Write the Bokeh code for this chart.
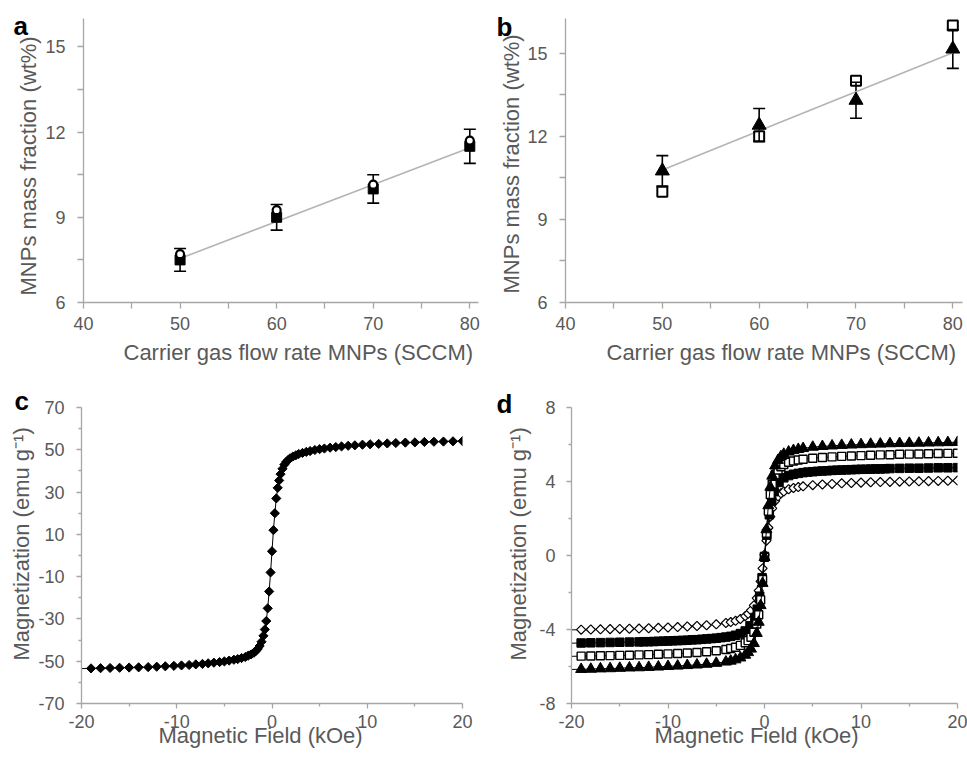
import numpy as np
from bokeh.plotting import figure
from bokeh.layouts import column, row
from bokeh.models import (Range1d, FixedTicker, Whisker, TeeHead, ColumnDataSource, Title)
from bokeh.embed import file_html
from bokeh.resources import INLINE

# ---------------- data ----------------
# panel a
flow_rate = [50, 60, 70, 80]
a_squares = [7.5, 9.0, 10.0, 11.5]
a_squares_err = [0.4, 0.45, 0.5, 0.6]
a_circles = [7.7, 9.25, 10.15, 11.7]

# panel b
b_triangles = [10.75, 12.4, 13.3, 15.15]
b_triangles_err = [0.55, 0.6, 0.65, 0.7]
b_squares = [10.0, 12.0, 14.0, 16.0]

# panel c
c_field = [-20, -19, -18, -17, -16, -15, -14, -13, -12.1, -11.2, -10.3, -9.5, -8.7, -8.0,
           -7.3, -6.7, -6.1, -5.5, -5.0, -4.5, -4.0, -3.6, -3.2, -2.8, -2.5, -2.2, -1.9,
           -1.7, -1.5, -1.3, -1.1, -0.9, -0.75, -0.6, -0.45, -0.3, -0.15, 0,
           0.15, 0.3, 0.45, 0.6, 0.75, 0.9, 1.1, 1.3, 1.5, 1.7, 1.9, 2.2, 2.5, 2.8, 3.2,
           3.6, 4.0, 4.5, 5.0, 5.5, 6.1, 6.7, 7.3, 8.0, 8.7, 9.5, 10.3, 11.2, 12.1, 13,
           14, 15, 16, 17, 18, 19, 20]
c_magnetization = [-53.5, -53.4, -53.3, -53.2, -53.1, -53.0, -52.9, -52.8, -52.6, -52.4,
                   -52.2, -52.0, -51.8, -51.5, -51.3, -51.0, -50.7, -50.4, -50.1, -49.7,
                   -49.3, -49.0, -48.5, -48.0, -47.4, -46.8, -46.0, -45.2, -44.2, -42.8,
                   -40.8, -38.0, -35.0, -31.0, -25.0, -17.0, -8.0, 2.0,
                   12.0, 20.0, 27.0, 32.0, 35.5, 38.5, 41.0, 43.0, 44.3, 45.2, 46.0, 46.8,
                   47.4, 48.0, 48.5, 49.0, 49.4, 49.9, 50.3, 50.6, 51.0, 51.3, 51.6, 51.9,
                   52.1, 52.4, 52.6, 52.8, 53.0, 53.2, 53.4, 53.5, 53.7, 53.8, 53.9, 54.0,
                   54.1]

# panel d
d_field = [-20, -19, -18, -17, -16, -15, -14, -13, -12, -11, -10, -9, -8, -7, -6, -5,
           -4, -3.5, -3, -2.5, -2, -1.7, -1.4, -1.1, -0.8, -0.6, -0.4, -0.2, 0,
           0.2, 0.4, 0.6, 0.8, 1.1, 1.4, 1.7, 2, 2.5, 3, 3.5, 4,
           5, 6, 7, 8, 9, 10, 11, 12, 13, 14, 15, 16, 17, 18, 19, 20]
d_triangles = [-6.16, -6.15, -6.14, -6.12, -6.11, -6.09, -6.07, -6.06, -6.04, -6.02, -5.99,
               -5.97, -5.94, -5.91, -5.87, -5.82, -5.75, -5.7, -5.63, -5.53, -5.38, -5.24,
               -5.05, -4.75, -4.2, -3.6, -2.7, -1.5, -0.1,
               1.4, 2.7, 3.7, 4.3, 4.85, 5.15, 5.35, 5.48, 5.6, 5.68, 5.74, 5.79,
               5.86, 5.9, 5.93, 5.96, 5.98, 6.0, 6.02, 6.03, 6.05, 6.06, 6.07, 6.08, 6.09,
               6.1, 6.11, 6.12]
d_open_squares = [-5.45, -5.44, -5.43, -5.42, -5.41, -5.4, -5.39, -5.37, -5.36, -5.34, -5.32,
                  -5.3, -5.27, -5.24, -5.2, -5.15, -5.08, -5.03, -4.96, -4.86, -4.72, -4.6,
                  -4.42, -4.15, -3.7, -3.2, -2.4, -1.3, -0.1,
                  1.2, 2.4, 3.3, 3.85, 4.35, 4.62, 4.8, 4.92, 5.04, 5.11, 5.16, 5.2,
                  5.26, 5.3, 5.33, 5.36, 5.38, 5.4, 5.42, 5.44, 5.45, 5.47, 5.48, 5.49, 5.5,
                  5.51, 5.52, 5.53]
d_diamonds = [-4.02, -4.01, -4.0, -3.99, -3.98, -3.97, -3.96, -3.95, -3.93, -3.91, -3.89,
              -3.87, -3.84, -3.81, -3.77, -3.72, -3.65, -3.6, -3.53, -3.43, -3.28, -3.15,
              -2.97, -2.7, -2.3, -1.9, -1.4, -0.7, 0.05,
              0.8, 1.5, 2.1, 2.55, 2.95, 3.2, 3.36, 3.46, 3.58, 3.65, 3.7, 3.74,
              3.8, 3.84, 3.87, 3.9, 3.92, 3.94, 3.96, 3.97, 3.98, 3.99, 4.0, 4.01, 4.02,
              4.03, 4.04, 4.05]
d_field_fine = [-20, -19, -18, -17, -16, -15, -14, -13,
                -12.5, -12, -11.5, -11, -10.5, -10, -9.5, -9, -8.5, -8, -7.5, -7, -6.5, -6,
                -5.5, -5, -4.5, -4, -3.5, -3, -2.5, -2, -1.5,
                -1, -0.75, -0.5, -0.25, 0, 0.25, 0.5, 0.75, 1,
                1.5, 2, 2.5, 3, 3.5, 4, 4.5, 5, 5.5, 6, 6.5, 7, 7.5, 8, 8.5, 9, 9.5, 10,
                10.5, 11, 11.5, 12, 12.5,
                13, 14, 15, 16, 17, 18, 19, 20]
d_filled_squares = [-4.74, -4.73, -4.72, -4.71, -4.7, -4.69, -4.68, -4.67,
                    -4.66, -4.66, -4.65, -4.64, -4.63, -4.62, -4.61, -4.6, -4.59, -4.58,
                    -4.56, -4.55, -4.53, -4.51, -4.49, -4.47, -4.44, -4.41, -4.37, -4.31,
                    -4.22, -4.08, -3.8,
                    -3.35, -2.9, -2.2, -1.2, -0.05, 1.1, 2.2, 2.95, 3.45,
                    3.95, 4.2, 4.32, 4.39, 4.44, 4.48, 4.51, 4.53, 4.55, 4.57, 4.58, 4.6,
                    4.61, 4.62, 4.63, 4.64, 4.65, 4.66, 4.66, 4.67, 4.68, 4.68, 4.69,
                    4.7, 4.71, 4.72, 4.72, 4.73, 4.74, 4.74, 4.75]

# ticks
ab_x_ticks = [40, 50, 60, 70, 80]
ab_x_minor = [45, 55, 65, 75]
ab_y_ticks = [6, 9, 12, 15]
ab_y_minor = [7.5, 10.5, 13.5]
cd_x_ticks = [-20, -10, 0, 10, 20]
cd_x_minor = [-15, -5, 5, 15]
c_y_ticks = [-70, -50, -30, -10, 10, 30, 50, 70]
c_y_minor = [-60, -40, -20, 0, 20, 40, 60]
d_y_ticks = [-8, -4, 0, 4, 8]
d_y_minor = [-6, -2, 2, 6]

# ---------------- styling ----------------
FONT = "Liberation Sans"
AXC = "#A6A6A6"
TXT = "#595959"


def make_fig(w, h, bl, br, bt, bb, xr, yr):
    p = figure(width=w, height=h, x_range=Range1d(*xr), y_range=Range1d(*yr),
               output_backend="svg", toolbar_location=None,
               min_border_left=bl, min_border_right=br, min_border_top=bt, min_border_bottom=bb)
    p.outline_line_color = None
    p.xgrid.visible = False
    p.ygrid.visible = False
    return p


def style_axes(p, xt, xm, yt, ym, tick_out, minor_out, xstand, ystand):
    p.xaxis.ticker = FixedTicker(ticks=xt, minor_ticks=xm)
    p.yaxis.ticker = FixedTicker(ticks=yt, minor_ticks=ym)
    p.xaxis.major_label_overrides = {t: str(t) for t in xt}
    p.yaxis.major_label_overrides = {t: str(t) for t in yt}
    for ax in (p.xaxis[0], p.yaxis[0]):
        ax.axis_line_color = AXC
        ax.axis_line_width = 1.3
        ax.major_tick_line_color = AXC
        ax.minor_tick_line_color = AXC
        ax.major_tick_line_width = 1.3
        ax.minor_tick_line_width = 1.3
        ax.major_tick_in = 0
        ax.minor_tick_in = 0
        ax.major_tick_out = tick_out
        ax.minor_tick_out = minor_out
        ax.major_label_text_font = FONT
        ax.major_label_text_font_size = "18px"
        ax.major_label_text_color = TXT
    p.xaxis.major_label_standoff = xstand
    p.yaxis.major_label_standoff = ystand


def titles(p, letter, l_off, l_stand, xtext, x_off, x_stand, ytext, y_off, y_stand):
    # panel letter (outside the frame, top-left)
    p.title.text = letter
    p.title.align = "left"
    p.title.vertical_align = "bottom"
    p.title.offset = l_off
    p.title.standoff = l_stand
    p.title.text_font = FONT
    p.title.text_font_size = "26px"
    p.title.text_font_style = "bold"
    p.title.text_color = "black"
    # x axis title
    p.add_layout(Title(text=xtext, align="left", offset=x_off, standoff=x_stand,
                       vertical_align="top", text_font=FONT, text_font_size="22px",
                       text_font_style="normal", text_color=TXT), "below")
    # y axis title
    p.add_layout(Title(text=ytext, align="left", offset=y_off, standoff=y_stand,
                       vertical_align="bottom", text_font=FONT, text_font_size="22px",
                       text_font_style="normal", text_color=TXT), "left")


def whiskers(p, xs, ys, errs):
    src = ColumnDataSource(dict(x=xs, upper=[y + e for y, e in zip(ys, errs)],
                                lower=[y - e for y, e in zip(ys, errs)]))
    p.add_layout(Whisker(source=src, base="x", upper="upper", lower="lower",
                         dimension="height", line_color="black", line_width=1.6,
                         upper_head=TeeHead(size=12, line_color="black", line_width=1.6),
                         lower_head=TeeHead(size=12, line_color="black", line_width=1.6)))


def trend(p, xs, ys):
    k, b = np.polyfit(xs, ys, 1)
    xe = [min(xs), max(xs)]
    p.line(xe, [k * v + b for v in xe], line_color="#B4B4B4", line_width=1.6)


MASS_LABEL = "MNPs mass fraction (wt%)"
FLOW_LABEL = "Carrier gas flow rate MNPs (SCCM)"
MAG_LABEL = "Magnetization (emu g\u207b\u00b9)"
FIELD_LABEL = "Magnetic Field (kOe)"

# ---------------- panel a ----------------
pa = make_fig(488, 380, 83, 10, 18, 78, (40, 80.9), (6, 16))
style_axes(pa, ab_x_ticks, ab_x_minor, ab_y_ticks, ab_y_minor, 6, 6, 8, 12)
trend(pa, flow_rate, a_squares)
whiskers(pa, flow_rate, a_squares, a_squares_err)
pa.scatter(flow_rate, a_squares, marker="square", size=10, fill_color="black", line_color="black")
pa.scatter(flow_rate, a_circles, marker="circle", size=8, fill_color="white",
           line_color="black", line_width=2.2)
titles(pa, "a", -70, -45, FLOW_LABEL, 40, 14, MASS_LABEL, 7, 3.4)

# ---------------- panel b ----------------
pb = make_fig(479, 380, 77, 5, 11, 78, (40, 81), (6, 16.25))
style_axes(pb, ab_x_ticks, ab_x_minor, ab_y_ticks, ab_y_minor, 6, 6, 8, 12)
trend(pb, flow_rate, b_triangles)
whiskers(pb, flow_rate, b_triangles, b_triangles_err)
pb.scatter(flow_rate, b_squares, marker="square", size=10, fill_color=None,
           line_color="black", line_width=2)
pb.scatter(flow_rate, b_triangles, marker="triangle", size=14, fill_color="black",
           line_color="black")
titles(pb, "b", -69, -46, FLOW_LABEL, 41, 14, MASS_LABEL, 9, 1.2)

# ---------------- panel c ----------------
pc = make_fig(488, 379, 81, 26, 27, 56, (-20, 20), (-70, 70))
style_axes(pc, cd_x_ticks, cd_x_minor, c_y_ticks, c_y_minor, 5, 3, 6, 12)
pc.line(c_field, c_magnetization, line_color="black", line_width=1)
pc.scatter(c_field[1:], c_magnetization[1:], marker="square", angle=np.pi / 4, size=6.5,
           fill_color="black", line_color="black")
titles(pc, "c", -67, -17, FIELD_LABEL, 77, -16, MAG_LABEL, 43, 3.2)

# ---------------- panel d ----------------
pd_ = make_fig(479, 379, 83, 10, 27, 56, (-20, 20), (-8, 8))
style_axes(pd_, cd_x_ticks, cd_x_minor, d_y_ticks, d_y_minor, 5, 3, 6, 11)
pd_.line(d_field, d_diamonds, line_color="black", line_width=1)
pd_.scatter(d_field[1:], d_diamonds[1:], marker="square", angle=np.pi / 4, size=6.5,
            fill_color="white", line_color="black", line_width=1.2)
pd_.line(d_field_fine, d_filled_squares, line_color="black", line_width=1)
pd_.scatter(d_field_fine[1:], d_filled_squares[1:], marker="square", size=8.5,
            fill_color="black", line_color="black")
pd_.line(d_field, d_open_squares, line_color="black", line_width=1)
pd_.scatter(d_field[1:], d_open_squares[1:], marker="square", size=8,
            fill_color="white", line_color="black", line_width=1.4)
pd_.line(d_field, d_triangles, line_color="black", line_width=1)
pd_.scatter(d_field[1:], d_triangles[1:], marker="triangle", size=11,
            fill_color="black", line_color="black")
titles(pd_, "d", -75, -23, FIELD_LABEL, 83, -16, MAG_LABEL, 43, 12)

layout = column(row(pa, pb), row(pc, pd_))
open("out.html", "w").write(file_html(layout, INLINE))
